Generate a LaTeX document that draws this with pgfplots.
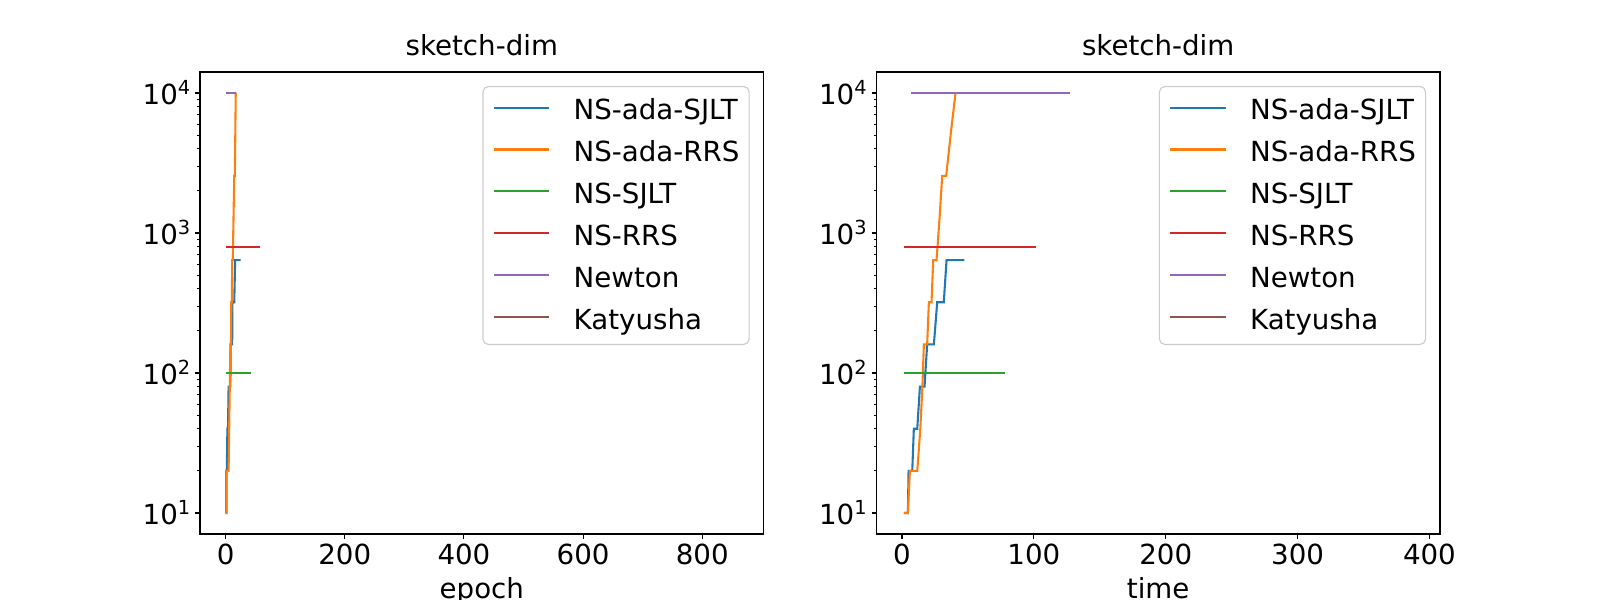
\documentclass[border=0pt]{standalone}
\usepackage{fontspec}
\setmainfont{DejaVu Sans}
\usepackage{pgfplots}
\pgfplotsset{compat=1.18}
\definecolor{c0}{HTML}{1F77B4}
\definecolor{c1}{HTML}{FF7F0E}
\definecolor{c2}{HTML}{2CA02C}
\definecolor{c3}{HTML}{D62728}
\definecolor{c4}{HTML}{9467BD}
\definecolor{c5}{HTML}{8C564B}
\newcommand\ff{\fontsize{20}{24}\selectfont}
\newcommand\sups[1]{\raisebox{7.2bp}{\fontsize{14}{14}\selectfont #1}}
\pgfplotsset{
  every axis/.append style={
  scale only axis, width=405.79bp, height=332.64bp,
  axis line style={line width=0.8bp},
  tick align=outside, xtick pos=bottom, ytick pos=left,
  major tick length=3.5bp, minor tick length=2bp,
  every tick/.style={black, line width=0.8bp},
  every minor tick/.style={black, line width=0.6bp},
  tick label style={font=\ff},
  /pgf/number format/assume math mode=true,
  title style={font=\ff, at={(0.5,1)}, anchor=base, yshift=6bp},
  xlabel style={font=\ff, at={(axis description cs:0.5,0)}, anchor=base, yshift=-46.8bp},
  legend cell align=left,
  legend style={at={(1,1)}, anchor=north east, xshift=-10bp, yshift=-10bp,
    draw=black!20, line width=0.8bp, rounded corners=4bp, fill=white, fill opacity=0.8, text opacity=1,
    font=\ff, inner xsep=7bp, inner ysep=2.3bp, row sep=0pt, column sep=16.8bp,
    nodes={inner sep=0pt, text height=21.7bp, text depth=8.5bp}},
  },
  every axis plot/.append style={line width=1.5bp, line join=miter},
  legend image code/.code={\draw[#1, line width=1.5bp] (0bp,2.2bp) -- (40bp,2.2bp);},
}
\begin{document}
\begin{tikzpicture}
\begin{axis}[at={(144bp,47.52bp)}, anchor=south west,
  ymode=log, ymin=7.0795, ymax=14125.4,
  ytick={10,100,1000,10000},
  yticklabels={10\sups{1},10\sups{2},10\sups{3},10\sups{4}},
  xmin=-43, xmax=903, xtick={0,200,400,600,800},
  title={sketch-dim}, xlabel={epoch}]
\addplot[c0] coordinates {(0,10)(1,10)(1,20)(2,20)(3,40)(4,40)(5,80)(8,80)(8.5,160)(11,160)(11.5,320)(14.5,320)(16,640)(25,640)};
\addlegendentry{NS-ada-SJLT}
\addplot[c1] coordinates {(0,10)(1.5,10)(1.5,20)(5,20)(6,40)(7,80)(8,160)(9,160)(9.5,320)(10.5,320)(11,640)(12,640)(14.5,2560)(15.5,2560)(17,10000)(18,10000)};
\addlegendentry{NS-ada-RRS}
\addplot[c2] coordinates {(0,100)(43,100)};
\addlegendentry{NS-SJLT}
\addplot[c3] coordinates {(0,800)(57,800)};
\addlegendentry{NS-RRS}
\addplot[c4] coordinates {(0,10000)(18,10000)};
\addlegendentry{Newton}
\addlegendimage{c5}
\addlegendentry{Katyusha}
\end{axis}
\begin{axis}[at={(631.0bp,47.52bp)}, anchor=south west,
  ymode=log, ymin=7.0795, ymax=14125.4,
  ytick={10,100,1000,10000},
  yticklabels={10\sups{1},10\sups{2},10\sups{3},10\sups{4}},
  xmin=-19.4, xmax=408, xtick={0,100,200,300,400},
  title={sketch-dim}, xlabel={time}]
\addplot[c0] coordinates {(1.5,10)(4.5,10)(5,20)(7.8,20)(9,40)(11.6,40)(13.6,80)(17.1,80)(19.1,160)(24.2,160)(26.7,320)(31.7,320)(33.8,640)(47.4,640)};
\addlegendentry{NS-ada-SJLT}
\addplot[c1] coordinates {(1.5,10)(4.5,10)(6,20)(11.6,20)(13.9,40)(15.5,80)(16.6,160)(19.1,160)(20.4,320)(22.4,320)(23.7,640)(26.2,640)(28.5,1280)(30.5,2560)(33.5,2560)(37,5120)(40.6,10000)};
\addlegendentry{NS-ada-RRS}
\addplot[c2] coordinates {(1.5,100)(78.5,100)};
\addlegendentry{NS-SJLT}
\addplot[c3] coordinates {(1.5,800)(101.7,800)};
\addlegendentry{NS-RRS}
\addplot[c4] coordinates {(6.5,10000)(127.7,10000)};
\addlegendentry{Newton}
\addlegendimage{c5}
\addlegendentry{Katyusha}
\end{axis}
\pgfresetboundingbox
\path (0,0) rectangle (1152bp,432bp);
\end{tikzpicture}
\end{document}
